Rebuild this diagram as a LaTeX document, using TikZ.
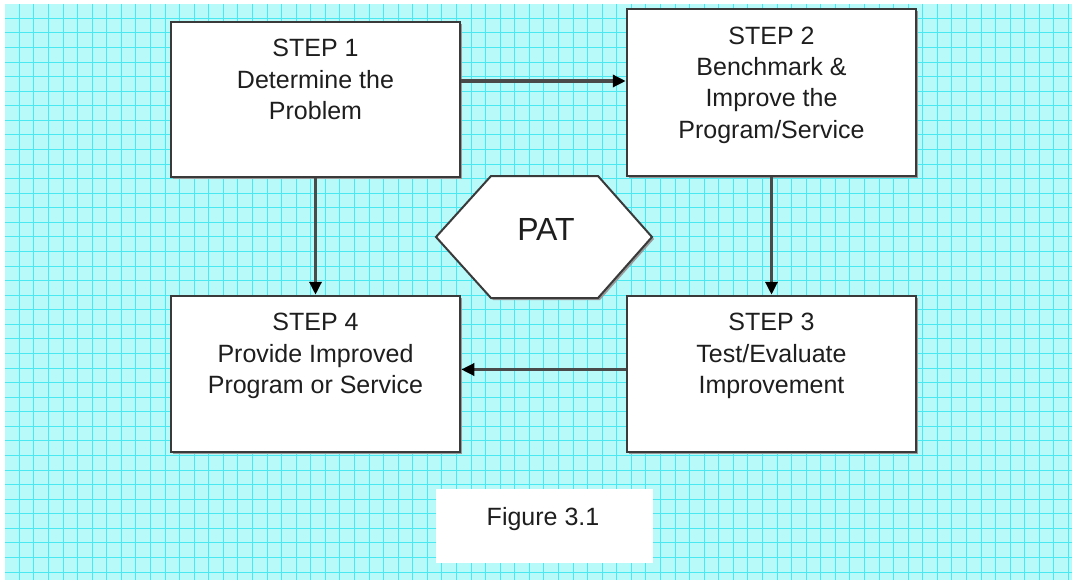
\documentclass[tikz,border=0pt]{standalone}
\usepackage{fontspec}
\setmainfont{Liberation Sans}
\usetikzlibrary{arrows.meta,shadows,calc}
\definecolor{paper}{HTML}{B8FAFA}
\definecolor{gridline}{HTML}{4AE8F0}
\definecolor{edge}{HTML}{3A3A3A}
\definecolor{connector}{HTML}{4A4A4A}
\definecolor{ink}{HTML}{1E1E1E}
\begin{document}
\begin{tikzpicture}[x=1pt,y=-1pt,
  stepbox/.style={draw=edge, line width=2.5pt, fill=white, minimum width=289pt,
    inner sep=0pt, drop shadow={shadow xshift=2pt, shadow yshift=-2pt, fill=black!40, opacity=1}},
  steptext/.style={font=\fontsize{25}{31.3}\selectfont, text=ink, align=center,
    anchor=north, inner sep=0pt},
  arr/.style={draw=connector, line width=3.5pt, -{Triangle[length=13pt,width=12pt,color=black]}},
  hexedge/.style={draw=edge, line width=2pt, fill=white,
    drop shadow={shadow xshift=2pt, shadow yshift=-2pt, fill=black!40, opacity=1}}]
  \useasboundingbox (0,0) rectangle (1076,583);
  \fill[white] (0,0) rectangle (1076,583);

  % graph paper
  \fill[paper] (5,4) rectangle (1072,580);
  \foreach \i in {0,...,72}
    \draw[gridline, line width=0.8pt] (19.3+\i*14.57,4) -- ++(0,576);
  \foreach \j in {0,...,38}
    \draw[gridline, line width=0.8pt] (5,18.3+\j*14.57) -- ++(1067,0);

  % the four steps
  \node[stepbox, minimum height=155pt] (b1) at (315.5,99.5) {};
  \node[stepbox, minimum height=167pt] (b2) at (771.5,92.5) {};
  \node[stepbox, minimum height=156pt] (b3) at (771.5,374) {};
  \node[stepbox, minimum height=156pt] (b4) at (315.5,374) {};

  \node[steptext] (t1) at ([yshift=-14pt]b1.north) {\strut STEP 1\\Determine the\\Problem};
  \node[steptext] (t2) at ([yshift=-14.5pt]b2.north) {\strut STEP 2\\Benchmark \&\\Improve the\\Program/Service};
  \node[steptext] (t3) at ([yshift=-14pt]b3.north) {\strut STEP 3\\Test/Evaluate\\Improvement};
  \node[steptext] (t4) at ([yshift=-14pt]b4.north) {\strut STEP 4\\Provide Improved\\Program or Service};

  % connectors
  \coordinate (rowA) at (0,81);
  \coordinate (rowB) at (0,369.5);
  \draw[arr] (b1.east |- rowA) -- (b2.west |- rowA);
  \draw[arr] (b2.south) -- (b3.north);
  \draw[arr] (b3.west |- rowB) -- (b4.east |- rowB);
  \draw[arr] (b1.south) -- (b4.north);

  % central hexagon
  \coordinate (h1) at (491,176);
  \coordinate (h2) at (598,176);
  \coordinate (h3) at (652,237);
  \coordinate (h4) at (598,298);
  \coordinate (h5) at (491,298);
  \coordinate (h6) at (436,237);
  \draw[hexedge] (h1) -- (h2) -- (h3) -- (h4) -- (h5) -- (h6) -- cycle;
  \node[font=\fontsize{32}{38}\selectfont, text=ink, anchor=base, inner sep=0pt] (pat) at (546,240.7) {PAT};

  % caption
  \node[fill=white, minimum width=217pt, minimum height=74pt, inner sep=0pt] (fig) at (544.5,526) {};
  \node[font=\fontsize{25}{30}\selectfont, text=ink, anchor=base, inner sep=0pt] (figtxt) at (543,525) {Figure 3.1};
\end{tikzpicture}
\end{document}
